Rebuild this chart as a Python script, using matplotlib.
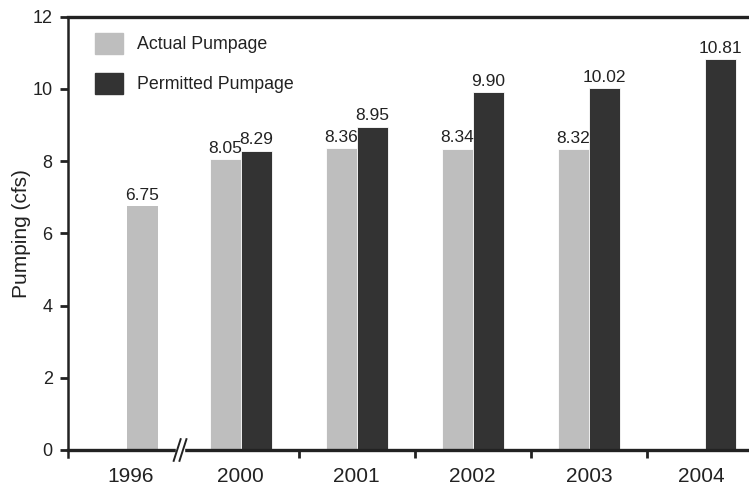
import matplotlib
matplotlib.use("Agg")
import matplotlib.pyplot as plt
from matplotlib.patches import Patch
import numpy as np

plt.rcParams['font.family'] = ['Liberation Sans', 'DejaVu Sans']

years = ["1996", "2000", "2001", "2002", "2003", "2004"]
actual = [6.75, 8.05, 8.36, 8.34, 8.32, None]
permitted = [None, 8.29, 8.95, 9.90, 10.02, 10.81]

# group positions (1996 is placed closer due to axis break)
group_pos = [0.10, 1.0, 2.0, 3.0, 4.0, 5.0]
bar_w = 0.267
gray = "#bebebe"
dark = "#333333"
ink = "#222222"
vfs = 12.5

fig = plt.figure(figsize=(7.49, 4.91), dpi=100)
ax = fig.add_axes([68/749, 41/491, 1 - 68/749, (450 - 16.5)/491])

for i, (a, p) in enumerate(zip(actual, permitted)):
    x = group_pos[i]
    if i == 0:
        xa = 0.155
        ax.bar(xa, a, width=bar_w, color=gray, align='center')
        ax.annotate(f"{a:.2f}", (xa, a), xytext=(0, 2.5), textcoords='offset points',
                    ha='center', va='bottom', fontsize=vfs, color=ink)
        continue
    if a is not None:
        xa = x - bar_w/2
        ax.bar(xa, a, width=bar_w, color=gray, edgecolor='white', linewidth=0.6)
        ax.annotate(f"{a:.2f}", (xa, a), xytext=(0, 2.5), textcoords='offset points',
                    ha='center', va='bottom', fontsize=vfs, color=ink)
    if p is not None:
        xp = x + bar_w/2
        ax.bar(xp, p, width=bar_w, color=dark, edgecolor='white', linewidth=0.6)
        ax.annotate(f"{p:.2f}", (xp, p), xytext=(0, 2.5), textcoords='offset points',
                    ha='center', va='bottom', fontsize=vfs, color=ink)

ax.set_xlim(-0.487, 5.38)
ax.set_ylim(0, 12)
ax.set_yticks(np.arange(0, 13, 2))
ax.set_xticks([0.05, 1, 2, 3, 4, 4.97])
ax.set_xticklabels(years)
ax.set_xticks([1.5, 2.5, 3.5, 4.5], minor=True)
ax.tick_params(axis='x', which='major', length=0, labelsize=15, colors=ink, pad=12)
ax.tick_params(axis='x', which='minor', length=6, width=2, color=ink, direction='out')
ax.tick_params(axis='y', length=6, width=2, color=ink, labelsize=13, labelcolor=ink, pad=5)
ax.set_ylabel("Pumping (cfs)", fontsize=15, color=ink, labelpad=1)

for s in ['right']:
    ax.spines[s].set_visible(False)
ax.spines['top'].set_linewidth(2.4)
ax.spines['bottom'].set_linewidth(2.4)
ax.spines['left'].set_linewidth(1.8)
for s in ['top', 'bottom', 'left']:
    ax.spines[s].set_color(ink)
ax.spines['left'].set_bounds(-0.18, 12)

# axis break marks
bx = (180 - 240.5) / 116 + 1
ax.add_patch(plt.Rectangle((bx - 0.035, -0.3), 0.07, 0.6, color='white',
                           transform=ax.transData, clip_on=False, zorder=5))
for dx in (-0.025, 0.025):
    ax.plot([bx + dx - 0.03, bx + dx + 0.03], [-0.3, 0.3], color=ink, lw=1.4,
            clip_on=False, zorder=6)

handles = [Patch(color=gray, label="Actual Pumpage"),
           Patch(color=dark, label="Permitted Pumpage")]
ax.legend(handles=handles, loc='upper left', frameon=False, fontsize=12.8,
          handlelength=1.6, handleheight=1.45, labelspacing=1.05, handletextpad=0.78,
          borderpad=0, borderaxespad=0,
          bbox_to_anchor=((95 - 68) / 681, (450 - 33) / 433.5), labelcolor=ink)

fig.savefig("out.png", dpi=100)
